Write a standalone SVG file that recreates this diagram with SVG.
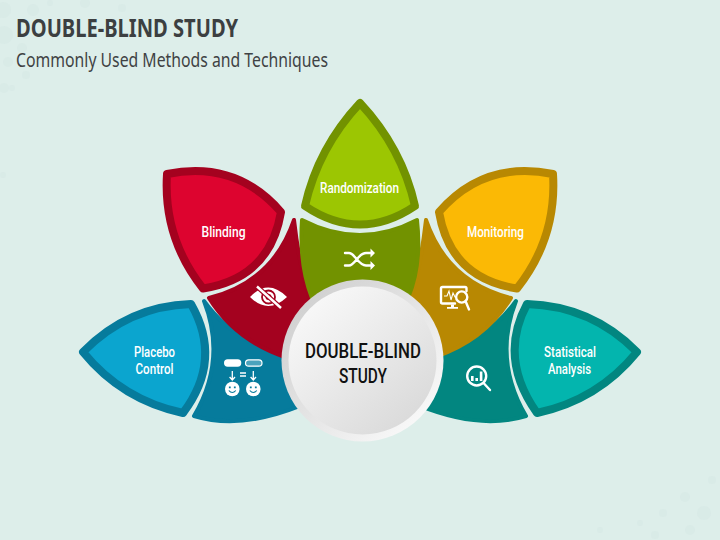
<svg xmlns="http://www.w3.org/2000/svg" width="720" height="540" viewBox="0 0 720 540">
<defs>
<linearGradient id="ring" x1="0.1" y1="0.1" x2="0.9" y2="0.9"><stop offset="0" stop-color="#cfcfcf"/><stop offset="1" stop-color="#fafafa"/></linearGradient>
<linearGradient id="disc" x1="0.15" y1="0.1" x2="0.85" y2="0.9"><stop offset="0" stop-color="#f8f8f8"/><stop offset="1" stop-color="#dadada"/></linearGradient>
</defs>
<style>
text{font-family:"Noto Sans","Liberation Sans",sans-serif}
.band{stroke-width:4;stroke-linejoin:round}
.petal{stroke-width:8;stroke-linejoin:round}
.lbl{fill:#fff;font-family:Roboto,"Liberation Sans",sans-serif;font-size:14.4px;font-weight:500;text-anchor:middle}
.mid{fill:#111;font-family:Roboto,"Liberation Sans",sans-serif;font-size:20.6px;font-weight:500;text-anchor:middle}
.ico{fill:none;stroke:#fff;stroke-width:2.4;stroke-linecap:round;stroke-linejoin:round}
.w{fill:#fff}
.dot{fill:#cfe5e0;opacity:.3}
</style>
<rect width="720" height="540" fill="#ddeeea"/>
<g id="background-dots">
<circle class="dot" cx="3" cy="10" r="8"/><circle class="dot" cx="33" cy="10" r="6"/><circle class="dot" cx="4" cy="35" r="9"/><circle class="dot" cx="85" cy="3" r="5"/><circle class="dot" cx="4" cy="88" r="5"/><circle class="dot" cx="50" cy="3" r="3"/><circle class="dot" cx="22" cy="48" r="5"/><circle class="dot" cx="122" cy="8" r="4"/><circle class="dot" cx="8" cy="62" r="5"/><circle class="dot" cx="26" cy="75" r="4"/><circle class="dot" cx="12" cy="88" r="3"/><circle class="dot" cx="3" cy="175" r="3"/>
<circle class="dot" cx="685" cy="497" r="5"/><circle class="dot" cx="704" cy="513" r="7"/><circle class="dot" cx="663" cy="513" r="4"/><circle class="dot" cx="640" cy="523" r="3"/><circle class="dot" cx="712" cy="480" r="4"/><circle class="dot" cx="690" cy="530" r="5"/><circle class="dot" cx="600" cy="530" r="3"/><circle class="dot" cx="655" cy="535" r="4"/>
</g>
<g id="title">
<text x="16" y="37" font-size="25.5" font-weight="700" fill="#3c3f41" textLength="222" lengthAdjust="spacingAndGlyphs">DOUBLE-BLIND STUDY</text>
<text x="16" y="66.5" font-size="19.5" fill="#3f4244" textLength="312" lengthAdjust="spacingAndGlyphs">Commonly Used Methods and Techniques</text>
</g>
<g id="connectors"/>
<g id="placebo-control">
<path class="band" fill="#067b9c" stroke="#067b9c" d="M204,301 Q227,360 194,416 Q240,430 300,406 L340,360 L285,357 Q232,340 204,301Z"/>
<path class="petal" fill="#0ba5cf" stroke="#067b9c" d="M83,352 Q128,306 191,304 Q223,360 183,413 Q122,400 83,352Z"/>
<text class="lbl" x="154.5" y="357" textLength="41" lengthAdjust="spacingAndGlyphs">Placebo</text>
<text class="lbl" x="154.5" y="374" textLength="38" lengthAdjust="spacingAndGlyphs">Control</text>
<rect class="w" x="224" y="359.3" width="17.3" height="7.4" rx="3.7"/>
<rect x="245.5" y="359.8" width="16.5" height="6.4" rx="3.2" fill="#4ba3bd" stroke="#fff" stroke-width="1.2"/>
<path fill="none" stroke="#fff" stroke-width="1.3" d="M232.3,371V379.5M229.6,377L232.3,380L235,377M253.3,371V379.5M250.6,377L253.3,380L256,377M240,373H246M240,376H246"/>
<circle class="w" cx="232.3" cy="389" r="7.3"/><circle class="w" cx="253.3" cy="389" r="7.3"/>
<path fill="none" stroke="#067b9c" stroke-width="1.1" d="M228.8,390.5Q232.3,394.5 235.8,390.5M249.8,390.5Q253.3,394.5 256.8,390.5"/>
<path fill="#067b9c" d="M228.9,386.5h1.8v1.8h-1.8zM233.9,386.5h1.8v1.8h-1.8zM249.9,386.5h1.8v1.8h-1.8zM254.9,386.5h1.8v1.8h-1.8z"/>
</g>
<g id="statistical-analysis">
<path class="band" fill="#028680" stroke="#028680" d="M516,301 Q493,360 526,416 Q480,430 420,406 L380,360 L435,357 Q488,340 516,301Z"/>
<path class="petal" fill="#03b5ae" stroke="#028680" d="M637,352 Q592,306 527,304 Q498,358 537,413 Q598,400 637,352Z"/>
<text class="lbl" x="570" y="357" textLength="52" lengthAdjust="spacingAndGlyphs">Statistical</text>
<text class="lbl" x="569.5" y="374" textLength="43" lengthAdjust="spacingAndGlyphs">Analysis</text>
<circle class="ico" cx="476.7" cy="376" r="9.5"/>
<path class="ico" stroke-width="3" d="M484,383.5L490,390"/>
<path class="w" d="M471,376h2.6v5h-2.6zM475.4,378h2.6v3h-2.6zM479.8,371.5h2.6v9.5h-2.6z"/>
</g>
<g id="blinding">
<path class="band" fill="#a4021f" stroke="#a4021f" d="M294,220 Q299,265 310,300 L340,360 L285,357 Q235,340 209,298 Q273,282 294,220Z"/>
<path class="petal" fill="#dd042f" stroke="#a4021f" d="M167,174 Q236,160 281,212 Q270,278 203,288.5 Q163,238 167,174Z"/>
<text class="lbl" x="223.5" y="236.5" textLength="44" lengthAdjust="spacingAndGlyphs">Blinding</text>
<path class="w" d="M250,297Q268,278 287,297Q268,315 250,297Z"/>
<circle cx="268.5" cy="297" r="6.5" fill="none" stroke="#a4021f" stroke-width="1.8"/>
<circle cx="268.5" cy="297" r="3" fill="#a4021f"/>
<path fill="none" stroke="#a4021f" stroke-width="5" d="M258,287.5L280,307"/>
<path fill="none" stroke="#fff" stroke-width="2.4" d="M257,286.5L281,308"/>
</g>
<g id="monitoring">
<path class="band" fill="#b88802" stroke="#b88802" d="M426,220 Q421,265 410,300 L380,360 L435,357 Q485,340 511,298 Q447,282 426,220Z"/>
<path class="petal" fill="#fbb905" stroke="#b88802" d="M553,174 Q484,160 439,212 Q450,278 517,288.5 Q557,238 553,174Z"/>
<text class="lbl" x="495.5" y="237" textLength="57" lengthAdjust="spacingAndGlyphs">Monitoring</text>
<path class="ico" stroke-width="1.8" d="M455,303.5H442.5Q441,303.5 441,302V288.5Q441,287 442.5,287H465Q466.5,287 466.5,288.5V291"/>
<path fill="none" stroke="#fff" stroke-width="1.1" d="M444,296H447L449,291L451,300L453,293L455,297H457"/>
<path class="w" d="M451,304.5h3v2.5h-3zM447,307h11v1.8h-11z"/>
<circle class="ico" stroke-width="1.8" cx="461.7" cy="297" r="5.6"/>
<path class="ico" d="M465.7,301.5L469,309.5" stroke-width="2.2"/>
</g>
<g id="randomization">
<path class="band" fill="#729200" stroke="#729200" d="M302,220 Q360,250 417,220 Q422,265 408,298 L362,340 L312,298 Q299,265 302,220Z"/>
<path class="petal" fill="#9cc602" stroke="#729200" d="M360,103 Q402,148 415,206 Q360,243 305,206 Q318,148 360,103Z"/>
<text class="lbl" x="359.5" y="193" textLength="79" lengthAdjust="spacingAndGlyphs">Randomization</text>
<path class="ico" d="M345,253H349C355,253 358,265.5 366,265.5H371M345,265.5H349C355,265.5 358,253 366,253H371"/>
<path class="w" d="M370.5,248.5L375,253L370.5,257.5ZM370.5,261L375,265.5L370.5,270Z"/>
</g>
<g id="center">
<circle cx="362.5" cy="360.5" r="81" fill="url(#ring)"/>
<circle cx="362.5" cy="360.5" r="74" fill="url(#disc)"/>
<text class="mid" x="363" y="358" textLength="116" lengthAdjust="spacingAndGlyphs">DOUBLE-BLIND</text>
<text class="mid" x="363" y="382.5" textLength="48" lengthAdjust="spacingAndGlyphs">STUDY</text>
</g>
</svg>
